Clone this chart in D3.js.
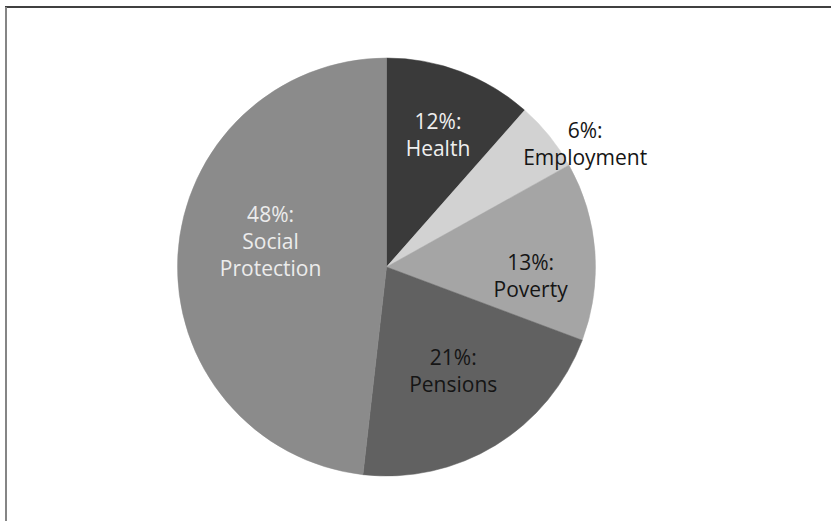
<html>
  <head>
    <meta charset="utf-8">
    <style>
      body { margin: 0; background: #ffffff; }
      svg text { font-family: "Open Sans", "Noto Sans", sans-serif; }
    </style>
  </head>
  <body>
    <div id="chart"></div>
    <script src="https://cdn.jsdelivr.net/npm/d3@7"></script>
    <script>
      // slices, clockwise from 12 o'clock
      var categories = ["Health", "Employment", "Poverty", "Pensions", "Social Protection"];
      var shares = [11.5, 5.4, 13.8, 21.1, 48.2];      // slice sizes
      var percentLabels = ["12%", "6%", "13%", "21%", "48%"];
      var labelLines = [["Health"], ["Employment"], ["Poverty"], ["Pensions"], ["Social", "Protection"]];
      var sliceColors = ["#3a3a3a", "#d2d2d2", "#a5a5a5", "#616161", "#8b8b8b"];
      var textColors = ["#efefef", "#151515", "#151515", "#151515", "#ececec"];

      var w = 831;
      var h = 521;
      var cx = 386.5;
      var cy = 267;
      var radius = 209;
      var line_h = 26.7;

      // label placement like excel's "best fit": radius fraction and angle shift (deg)
      var label_r = [0.678, 1.117, 0.691, 0.591, 0.568];
      var label_shift = [0.6, 7.2, 8, -1.2, 9.2];

      var svg = d3.select("#chart")
      .append("svg")
      .attr("width", w)
      .attr("height", h);

      // frame lines
      svg.append("line")
      .attr("x1", 5).attr("y1", 7).attr("x2", w).attr("y2", 7)
      .attr("stroke", "#000").attr("stroke-width", 1.6);
      svg.append("line")
      .attr("x1", 6).attr("y1", 7).attr("x2", 6).attr("y2", h)
      .attr("stroke", "#858585").attr("stroke-width", 2);

      var pie = d3.pie().sort(null).value(function(d){return d;});
      var arcs = pie(shares);
      var arc = d3.arc().innerRadius(0).outerRadius(radius);

      var g = svg.append("g").attr("transform", "translate(" + cx + "," + cy + ")");

      g.selectAll(".slice")
      .data(arcs)
      .enter()
      .append("path")
      .attr("class", "slice")
      .attr("d", arc)
      .attr("fill", function(d, i){return sliceColors[i];})
      .attr("stroke", function(d, i){return sliceColors[i];})
      .attr("stroke-width", 0.5);

      var labels = g.selectAll(".lbl")
      .data(arcs)
      .enter()
      .append("text")
      .attr("class", "lbl")
      .attr("text-anchor", "middle")
      .attr("font-size", "21px")
      .attr("fill", function(d, i){return textColors[i];})
      .attr("transform", function(d, i){
        var a = (d.startAngle + d.endAngle) / 2 + label_shift[i] * Math.PI / 180;
        var r = radius * label_r[i];
        return "translate(" + (r * Math.sin(a)) + "," + (-r * Math.cos(a)) + ")";
      });

      labels.each(function(d, i){
        var lines = [percentLabels[i] + ":"].concat(labelLines[i]);
        var n = lines.length;
        d3.select(this).selectAll("tspan")
        .data(lines)
        .enter()
        .append("tspan")
        .attr("x", 0)
        .attr("y", function(t, j){return (j - (n - 1) / 2) * line_h + 7.4;})
        .text(function(t){return t;});
      });
    </script>
  </body>
</html>
